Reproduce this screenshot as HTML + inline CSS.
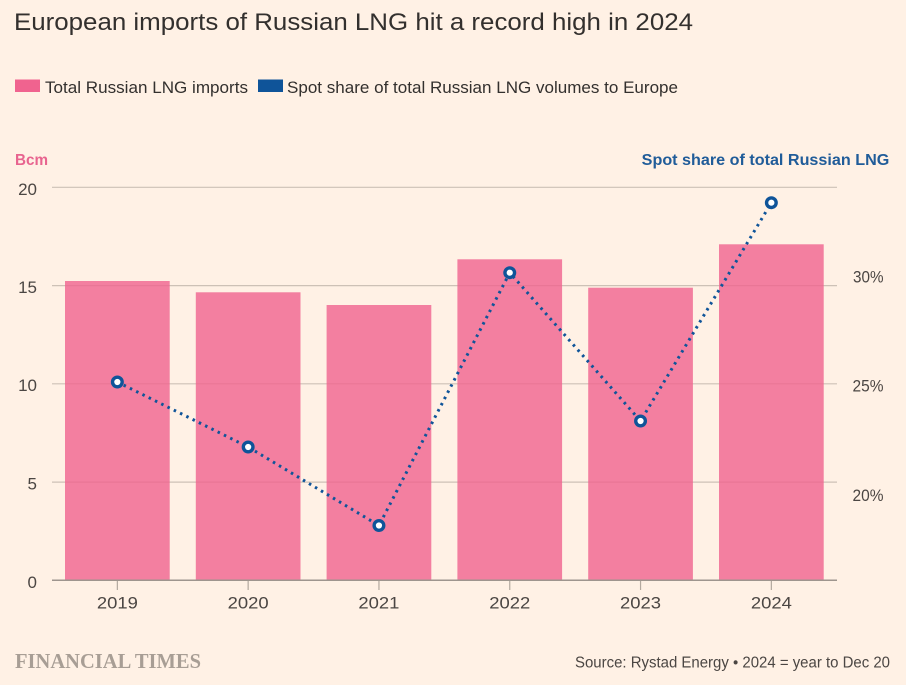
<!DOCTYPE html>
<html>
<head>
<meta charset="utf-8">
<style>
  html, body { margin:0; padding:0; background:#fff1e5; }
  body { width:906px; height:685px; overflow:hidden; }
  svg { display:block; }
  text { font-family: "Liberation Sans", "DejaVu Sans", sans-serif; }
</style>
</head>
<body>
<svg width="906" height="685" viewBox="0 0 906 685" xmlns="http://www.w3.org/2000/svg">
  <rect x="0" y="0" width="906" height="685" fill="#fff1e5"/>

  <!-- Title -->
  <text x="14" y="30" font-size="24" fill="#33302e" textLength="679" lengthAdjust="spacingAndGlyphs">European imports of Russian LNG hit a record high in 2024</text>

  <!-- Legend -->
  <rect x="15" y="79.5" width="25" height="12.5" fill="#f0638f"/>
  <text x="45" y="93" font-size="17" fill="#33302e" textLength="203" lengthAdjust="spacingAndGlyphs">Total Russian LNG imports</text>
  <rect x="258" y="79.5" width="25" height="12.5" fill="#0f5499"/>
  <text x="287" y="93" font-size="17" fill="#33302e" textLength="391" lengthAdjust="spacingAndGlyphs">Spot share of total Russian LNG volumes to Europe</text>

  <!-- Axis titles -->
  <text x="15" y="165" font-size="16" font-weight="bold" fill="#e8648f" textLength="33" lengthAdjust="spacingAndGlyphs">Bcm</text>
  <text x="641.7" y="165" font-size="16" font-weight="bold" fill="#205c99" textLength="247.6" lengthAdjust="spacingAndGlyphs">Spot share of total Russian LNG</text>

  <!-- Gridlines -->
  <g stroke="#cdc1b6" stroke-width="1.2">
    <line x1="52" y1="187.3" x2="837" y2="187.3"/>
    <line x1="52" y1="285.6" x2="837" y2="285.6"/>
    <line x1="52" y1="383.8" x2="837" y2="383.8"/>
    <line x1="52" y1="482.1" x2="837" y2="482.1"/>
  </g>

  <!-- Left tick labels -->
  <g font-size="17" fill="#4b4643" text-anchor="end">
    <text x="37" y="195">20</text>
    <text x="37" y="293">15</text>
    <text x="37" y="391">10</text>
    <text x="37" y="489.5">5</text>
    <text x="37" y="588">0</text>
  </g>

  <!-- Right tick labels -->
  <g font-size="17" fill="#4b4643">
    <text x="853" y="282.5" textLength="30.5" lengthAdjust="spacingAndGlyphs">30%</text>
    <text x="852.5" y="391.5" textLength="31" lengthAdjust="spacingAndGlyphs">25%</text>
    <text x="852.5" y="500.8" textLength="31" lengthAdjust="spacingAndGlyphs">20%</text>
  </g>

  <!-- Bars -->
  <g fill="#f0638f" fill-opacity="0.8">
    <rect x="65" y="281" width="104.7" height="299.3"/>
    <rect x="195.8" y="292.3" width="104.7" height="288"/>
    <rect x="326.6" y="305" width="104.7" height="275.3"/>
    <rect x="457.4" y="259.3" width="104.7" height="321"/>
    <rect x="588.2" y="287.7" width="104.7" height="292.6"/>
    <rect x="719" y="244.3" width="104.7" height="336"/>
  </g>

  <!-- X axis -->
  <line x1="52" y1="580.3" x2="837" y2="580.3" stroke="#9e958e" stroke-width="1.5"/>
  <g stroke="#b3a99f" stroke-width="1.2">
    <line x1="117.35" y1="581" x2="117.35" y2="590"/>
    <line x1="248.15" y1="581" x2="248.15" y2="590"/>
    <line x1="378.95" y1="581" x2="378.95" y2="590"/>
    <line x1="509.75" y1="581" x2="509.75" y2="590"/>
    <line x1="640.55" y1="581" x2="640.55" y2="590"/>
    <line x1="771.35" y1="581" x2="771.35" y2="590"/>
  </g>
  <g font-size="17" fill="#4b4643" text-anchor="middle">
    <text x="117.35" y="608.5" textLength="41" lengthAdjust="spacingAndGlyphs">2019</text>
    <text x="248.15" y="608.5" textLength="41" lengthAdjust="spacingAndGlyphs">2020</text>
    <text x="378.95" y="608.5" textLength="41" lengthAdjust="spacingAndGlyphs">2021</text>
    <text x="509.75" y="608.5" textLength="41" lengthAdjust="spacingAndGlyphs">2022</text>
    <text x="640.55" y="608.5" textLength="41" lengthAdjust="spacingAndGlyphs">2023</text>
    <text x="771.35" y="608.5" textLength="41" lengthAdjust="spacingAndGlyphs">2024</text>
  </g>

  <!-- Spot share line -->
  <polyline points="117.35,382 248.15,447 378.95,525.5 509.75,272.7 640.55,421 771.35,202.7"
            fill="none" stroke="#0f5499" stroke-width="3" stroke-dasharray="2.5 4.5"/>
  <g fill="#ffffff" stroke="#0f5499" stroke-width="3.4">
    <circle cx="117.35" cy="382" r="4.8"/>
    <circle cx="248.15" cy="447" r="4.8"/>
    <circle cx="378.95" cy="525.5" r="4.8"/>
    <circle cx="509.75" cy="272.7" r="4.8"/>
    <circle cx="640.55" cy="421" r="4.8"/>
    <circle cx="771.35" cy="202.7" r="4.8"/>
  </g>

  <!-- Footer -->
  <text x="15" y="668" font-family="Liberation Serif, serif" font-size="21" font-weight="bold" fill="#a89e95" textLength="186" lengthAdjust="spacingAndGlyphs" style="font-family:'Liberation Serif', serif;">FINANCIAL TIMES</text>
  <text x="575" y="667.7" font-size="15.5" fill="#4b4643" textLength="315" lengthAdjust="spacingAndGlyphs">Source: Rystad Energy • 2024 = year to Dec 20</text>
</svg>
</body>
</html>
